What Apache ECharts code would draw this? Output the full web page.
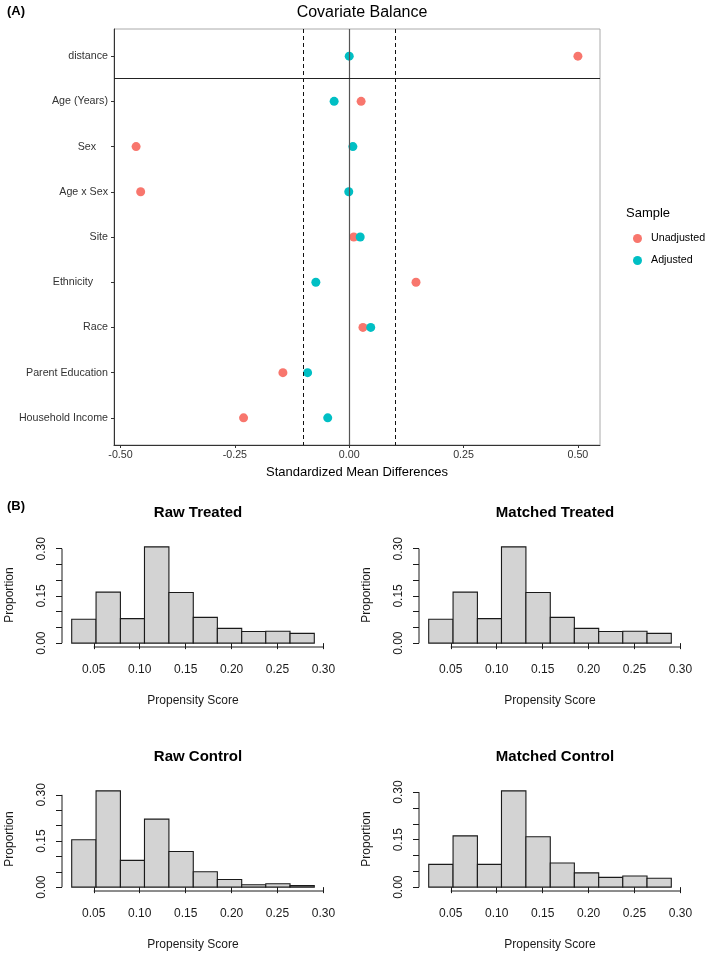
<!DOCTYPE html>
<html>
<head>
<meta charset="utf-8">
<script src="https://cdn.jsdelivr.net/npm/echarts@6/dist/echarts.min.js"></script>
<style>
  html, body { margin: 0; padding: 0; background: #fff; }
  #chart { width: 709px; height: 955px; }
</style>
</head>
<body>
<div id="chart"></div>
<script>
// panel A: covariate balance (standardized mean differences)
const covariates = ['distance', 'Age (Years)', 'Sex    ', 'Age x Sex', 'Site', 'Ethnicity     ', 'Race', 'Parent Education', 'Household Income'];
const unadjusted = [0.500, 0.026, -0.466, -0.456, 0.010, 0.146, 0.030, -0.145, -0.231];
const adjusted = [0.000, -0.033, 0.008, -0.001, 0.024, -0.073, 0.047, -0.091, -0.047];
const smdTicks = [-0.5, -0.25, 0, 0.25, 0.5];
const threshold = 0.1;

// panel B: propensity score histograms
const binEdges = [0.026, 0.0525, 0.079, 0.1052, 0.1318, 0.1583, 0.1845, 0.211, 0.2372, 0.2636, 0.290];
const rawTreated = [0.076, 0.162, 0.078, 0.306, 0.161, 0.082, 0.047, 0.037, 0.038, 0.031];
const matchedTreated = [0.076, 0.162, 0.078, 0.306, 0.161, 0.082, 0.047, 0.037, 0.038, 0.031];
const rawControl = [0.154, 0.313, 0.087, 0.221, 0.116, 0.050, 0.025, 0.008, 0.011, 0.005];
const matchedControl = [0.072, 0.162, 0.072, 0.304, 0.159, 0.076, 0.045, 0.031, 0.035, 0.028];
const histXTicks = [0.05, 0.10, 0.15, 0.20, 0.25, 0.30];
const histYTicks = [0, 0.05, 0.10, 0.15, 0.20, 0.25, 0.30];
const histYLabels = [0, 0.15, 0.30];

const FONT = 'Liberation Sans, Arial, Helvetica, sans-serif';
const ink = '#1a1a1a';

const chart = echarts.init(document.getElementById('chart'));

// ggplot-like 5% expansion of the x range
const allSmd = unadjusted.concat(adjusted);
const smdLo = Math.min(...allSmd), smdHi = Math.max(...allSmd);
const smdPad = (smdHi - smdLo) * 0.05;

const histPanels = [
  { title: 'Raw Treated', data: rawTreated, left: 62, top: 543 },
  { title: 'Matched Treated', data: matchedTreated, left: 419, top: 543 },
  { title: 'Raw Control', data: rawControl, left: 62, top: 787 },
  { title: 'Matched Control', data: matchedControl, left: 419, top: 787 }
];
const histW = 262, histH = 104;
const span = binEdges[binEdges.length - 1] - binEdges[0];
const hxMin = binEdges[0] - 0.04 * span;
const hxMax = binEdges[binEdges.length - 1] + 0.04 * span;

const grids = [{ left: 114, top: 29, width: 486, height: 416, show: true, borderColor: '#aaa', borderWidth: 1 }];
const xAxes = [{
  type: 'value', gridIndex: 0, min: smdLo - smdPad, max: smdHi + smdPad,
  name: 'Standardized Mean Differences', nameLocation: 'middle', nameGap: 21,
  nameTextStyle: { fontFamily: FONT, fontSize: 13, color: '#000' },
  axisLine: { show: true, onZero: false, lineStyle: { color: '#333' } },
  axisTick: { show: true, length: 3, customValues: smdTicks, lineStyle: { color: '#333' } },
  axisLabel: { customValues: smdTicks, margin: 5, fontFamily: FONT, fontSize: 10.7, color: '#333', formatter: v => v.toFixed(2) },
  splitLine: { show: false }
}];
const yAxes = [{
  type: 'value', gridIndex: 0, min: 0.4, max: covariates.length + 0.6, inverse: true,
  axisLine: { show: true, onZero: false, lineStyle: { color: '#333' } },
  axisTick: { show: true, length: 3, customValues: covariates.map((c, i) => i + 1), lineStyle: { color: '#333' } },
  axisLabel: { customValues: covariates.map((c, i) => i + 1), margin: 6, fontFamily: FONT, fontSize: 10.7, color: '#333',
    formatter: v => covariates[Math.round(v) - 1] },
  splitLine: { show: false }
}];
const series = [
  {
    type: 'scatter', xAxisIndex: 0, yAxisIndex: 0, data: [], z: 1, silent: true,
    markLine: {
      silent: true, symbol: 'none', label: { show: false }, animation: false,
      data: [
        { xAxis: 0, lineStyle: { color: '#555', type: 'solid', width: 1.2 } },
        { xAxis: -threshold, lineStyle: { color: '#111', type: [4, 3], width: 1 } },
        { xAxis: threshold, lineStyle: { color: '#111', type: [4, 3], width: 1 } },
        { yAxis: 1.5, lineStyle: { color: '#222', type: 'solid', width: 1.2 } }
      ]
    }
  },
  {
    name: 'Unadjusted', type: 'scatter', xAxisIndex: 0, yAxisIndex: 0, symbolSize: 9, z: 3,
    itemStyle: { color: '#F8766D', opacity: 1 },
    data: unadjusted.map((v, i) => [v, i + 1])
  },
  {
    name: 'Adjusted', type: 'scatter', xAxisIndex: 0, yAxisIndex: 0, symbolSize: 9, z: 4,
    itemStyle: { color: '#00BFC4', opacity: 1 },
    data: adjusted.map((v, i) => [v, i + 1])
  }
];
const titles = [
  { text: 'Covariate Balance', left: 357, top: 0, textAlign: 'center',
    textStyle: { fontFamily: FONT, fontSize: 16, fontWeight: 'normal', color: '#000' } },
  { text: '(A)', left: 2, top: 0, textStyle: { fontFamily: FONT, fontSize: 13, fontWeight: 'bold', color: '#000' } },
  { text: '(B)', left: 2, top: 495, textStyle: { fontFamily: FONT, fontSize: 13, fontWeight: 'bold', color: '#000' } },
  { text: 'Sample', left: 621, top: 202, textStyle: { fontFamily: FONT, fontSize: 13, fontWeight: 'normal', color: '#000' } }
];

histPanels.forEach((p, k) => {
  const gi = k + 1;
  const yMaxData = Math.max(...p.data);
  const yMin = -0.04 * yMaxData, yMax = 1.04 * yMaxData;
  grids.push({ left: p.left, top: p.top, width: histW, height: histH });
  titles.push({
    text: p.title, left: p.left + histW / 2, top: p.top - 43, textAlign: 'center',
    textStyle: { fontFamily: FONT, fontSize: 15, fontWeight: 'bold', color: '#000' }
  });
  xAxes.push({
    type: 'value', gridIndex: gi, min: hxMin, max: hxMax,
    name: 'Propensity Score', nameLocation: 'middle', nameGap: 48,
    nameTextStyle: { fontFamily: FONT, fontSize: 12, color: ink },
    axisLine: { show: false },
    axisTick: { show: true, length: 6, customValues: histXTicks, lineStyle: { color: ink } },
    axisLabel: { customValues: histXTicks, margin: 17, fontFamily: FONT, fontSize: 12, color: ink, formatter: v => v.toFixed(2) },
    splitLine: { show: false }
  });
  yAxes.push({
    type: 'value', gridIndex: gi, min: yMin, max: yMax,
    name: 'Proportion', nameLocation: 'middle', nameGap: 46, nameRotate: 90,
    nameTextStyle: { fontFamily: FONT, fontSize: 12, color: ink },
    axisLine: { show: false },
    axisTick: { show: true, length: 6, customValues: histYTicks, lineStyle: { color: ink } },
    axisLabel: { customValues: histYLabels, rotate: 90, margin: 14, fontFamily: FONT, fontSize: 12, color: ink, formatter: v => v.toFixed(2) },
    splitLine: { show: false }
  });
  series.push({
    type: 'custom', xAxisIndex: gi, yAxisIndex: gi, silent: true,
    data: p.data.map((h, i) => [binEdges[i], binEdges[i + 1], h]),
    encode: { x: [0, 1], y: 2 },
    renderItem(params, api) {
      const a = api.coord([api.value(0), api.value(2)]);
      const b = api.coord([api.value(1), 0]);
      return {
        type: 'rect',
        shape: { x: a[0], y: a[1], width: b[0] - a[0], height: b[1] - a[1] },
        style: { fill: '#d3d3d3', stroke: ink, lineWidth: 1.1 }
      };
    }
  });
  // R-style axis lines spanning first to last tick
  series.push({
    type: 'line', xAxisIndex: gi, yAxisIndex: gi, silent: true, clip: false, symbol: 'none',
    lineStyle: { color: ink, width: 1 },
    data: [[histXTicks[0], yMin], [histXTicks[histXTicks.length - 1], yMin]]
  });
  series.push({
    type: 'line', xAxisIndex: gi, yAxisIndex: gi, silent: true, clip: false, symbol: 'none',
    lineStyle: { color: ink, width: 1 },
    data: [[hxMin, histYTicks[0]], [hxMin, histYTicks[histYTicks.length - 1]]]
  });
});

chart.setOption({
  animation: false,
  backgroundColor: '#fff',
  title: titles,
  legend: {
    data: ['Unadjusted', 'Adjusted'], orient: 'vertical', left: 628, top: 228,
    icon: 'circle', itemWidth: 9, itemHeight: 9, itemGap: 11,
    textStyle: { fontFamily: FONT, fontSize: 10.7, color: '#000', padding: [0, 0, 0, 4] }
  },
  grid: grids,
  xAxis: xAxes,
  yAxis: yAxes,
  series: series
});
</script>
</body>
</html>
